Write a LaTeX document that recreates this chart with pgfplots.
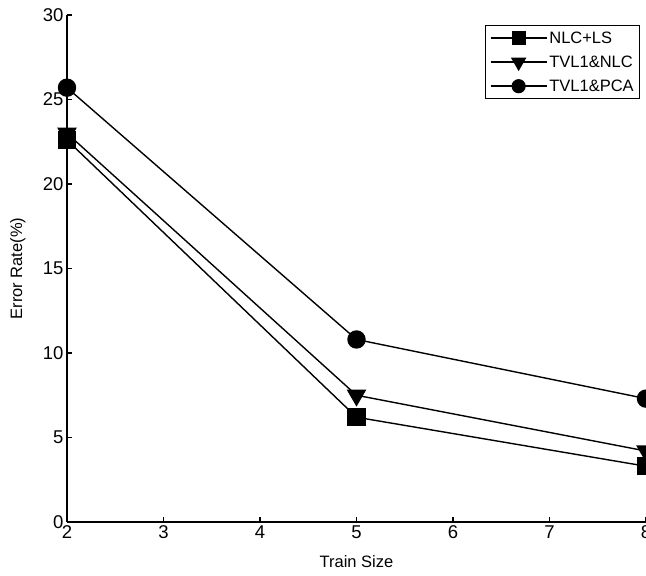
\documentclass[border=0pt]{standalone}
\usepackage{fontspec}
\setmainfont{Liberation Sans}
\usepackage{pgfplots}
\pgfplotsset{compat=1.18}

\begin{document}
\begin{tikzpicture}
\path[use as bounding box] (-67pt,-54pt) rectangle (579pt,522pt);
\begin{axis}[
    scale only axis,
    width=579pt,
    height=507pt,
    xmin=2, xmax=8,
    ymin=0, ymax=30,
    xtick={2,3,4,5,6,7,8},
    ytick={0,5,10,15,20,25,30},
    axis x line*=bottom,
    axis y line*=left,
    axis line style={-, line width=1.3pt},
    tick align=inside,
    major tick length=5pt,
    tick style={line width=1.1pt, black},
    every tick label/.append style={font=\fontsize{18.5}{20}\selectfont},
    /pgf/number format/assume math mode=true,
    xlabel={Train Size},
    ylabel={Error Rate(\%)},
    label style={font=\fontsize{16.5}{18}\selectfont},
    xlabel style={at={(axis description cs:0.5,-0.079)}, anchor=center},
    ylabel style={at={(axis description cs:-0.085,0.5)}, anchor=center},
    legend cell align={left},
    legend style={at={(axis description cs:0.990,0.980)}, anchor=north east,
        draw=black, line width=1pt, font=\fontsize{16.5}{18}\selectfont,
        row sep=7pt, inner sep=4pt},
    legend image code/.code={%
        \draw[mark repeat=2, mark phase=2, #1, every mark/.append style={scale=0.75}]
        plot coordinates {(0pt,0pt) (28pt,0pt) (56pt,0pt)};},
]
\addplot[black, line width=1.4pt, mark=square*, mark size=8.5pt] coordinates {
(2,22.6) (5,6.2) (8,3.3)
};
\addlegendentry{NLC+LS}
\addplot[black, line width=1.4pt, mark=triangle*, mark size=10pt, mark options={rotate=180}] coordinates {
(2,23.0) (5,7.5) (8,4.2)
};
\addlegendentry{TVL1\&NLC}
\addplot[black, line width=1.4pt, mark=*, mark size=8.5pt] coordinates {
(2,25.7) (5,10.8) (8,7.3)
};
\addlegendentry{TVL1\&PCA}
\end{axis}
\end{tikzpicture}
\end{document}
